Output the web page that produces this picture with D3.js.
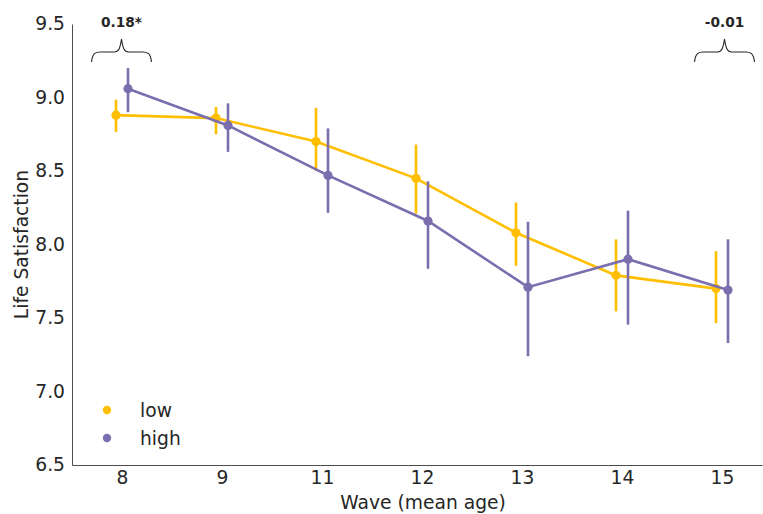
<!DOCTYPE html>
<html>
<head>
<meta charset="utf-8">
<script src="https://cdn.jsdelivr.net/npm/d3@7"></script>
<style>
body{margin:0;background:#fff;}
text{font-family:"DejaVu Sans",sans-serif;fill:#262626;}
</style>
</head>
<body>
<svg id="chart" width="763" height="514"></svg>
<script>
const waves = ["8","9","11","12","13","14","15"];
const lowMean = [8.88, 8.86, 8.70, 8.45, 8.08, 7.79, 7.70];
const lowLo   = [8.765, 8.75, 8.50, 8.21, 7.855, 7.545, 7.465];
const lowHi   = [8.985, 8.935, 8.93, 8.68, 8.285, 8.035, 7.955];
const highMean = [9.06, 8.81, 8.47, 8.16, 7.71, 7.90, 7.69];
const highLo   = [8.90, 8.63, 8.215, 7.835, 7.24, 7.455, 7.33];
const highHi   = [9.20, 8.96, 8.79, 8.43, 8.155, 8.23, 8.035];
const yTicks = [6.5, 7.0, 7.5, 8.0, 8.5, 9.0, 9.5];
const groupLabels = ["low", "high"];
const diffLabels = [{idx:0, text:"0.18*"}, {idx:6, text:"-0.01"}];

const colors = {low:"#ffbf00", high:"#7a6eae"};
const svg = d3.select("#chart");
const mLeft = 72, mRight = 762, mTop = 24, mBottom = 465;
const fs = "18.7px";

const x = d3.scaleLinear().domain([-0.5, 6.4]).range([mLeft, mRight]);
const y = d3.scaleLinear().domain([6.5, 9.5]).range([mBottom, mTop]);

// axes
const yAxis = d3.axisLeft(y).tickValues(yTicks).tickFormat(d3.format(".1f")).tickSize(0).tickPadding(7);
const gy = svg.append("g").attr("transform",`translate(${mLeft},0)`).call(yAxis);
gy.select(".domain").attr("stroke","#4d4d4d").attr("stroke-width",1);
gy.selectAll("text").style("font-size",fs).attr("fill","#262626");

const xAxis = d3.axisBottom(x).tickValues(d3.range(waves.length)).tickFormat(i=>waves[i]).tickSize(0).tickPadding(6);
const gx = svg.append("g").attr("transform",`translate(0,${mBottom})`).call(xAxis);
gx.select(".domain").attr("stroke","#4d4d4d").attr("stroke-width",1);
gx.selectAll("text").style("font-size",fs).attr("fill","#262626");

svg.append("text").attr("x",(mLeft+mRight)/2 + 6).attr("y",509).attr("text-anchor","middle")
  .style("font-size",fs).text("Wave (mean age)");
svg.append("text").attr("transform",`translate(28,${(mTop+mBottom)/2}) rotate(-90)`).attr("text-anchor","middle")
  .style("font-size",fs).text("Life Satisfaction");

const series = [
  {name:"low", mean:lowMean, lo:lowLo, hi:lowHi, off:-6},
  {name:"high", mean:highMean, lo:highLo, hi:highHi, off:6}
];

series.forEach(s=>{
  const c = colors[s.name];
  const g = svg.append("g");
  const line = d3.line().x((d,i)=>x(i)+s.off).y(d=>y(d));
  g.append("path").datum(s.mean).attr("d",line).attr("fill","none").attr("stroke",c).attr("stroke-width",2.6);
  g.selectAll("line.err").data(s.mean).enter().append("line")
    .attr("x1",(d,i)=>x(i)+s.off).attr("x2",(d,i)=>x(i)+s.off)
    .attr("y1",(d,i)=>y(s.lo[i])).attr("y2",(d,i)=>y(s.hi[i]))
    .attr("stroke",c).attr("stroke-width",2.6);
  g.selectAll("circle").data(s.mean).enter().append("circle")
    .attr("cx",(d,i)=>x(i)+s.off).attr("cy",d=>y(d)).attr("r",4.6).attr("fill",c);
});

// braces
diffLabels.forEach(dl=>{
  const cx = x(dl.idx) + (dl.idx === 0 ? -0.5 : 2.5);
  const w = 30, tipY = 39, midY = 52, endY = 62;
  const p = `M${cx-w},${endY} C${cx-w+1},${midY+1} ${cx-w+4},${midY} ${cx-w+9},${midY}`+
            ` L${cx-7},${midY} C${cx-3},${midY} ${cx-1.5},${midY-3} ${cx},${tipY}`+
            ` C${cx+1.5},${midY-3} ${cx+3},${midY} ${cx+7},${midY}`+
            ` L${cx+w-9},${midY} C${cx+w-4},${midY} ${cx+w-1},${midY+1} ${cx+w},${endY}`;
  svg.append("path").attr("d",p).attr("fill","none").attr("stroke","#262626").attr("stroke-width",1.1);
  svg.append("text").attr("x",cx).attr("y",27).attr("text-anchor","middle")
    .style("font-size","13.7px").style("font-weight","bold").text(dl.text);
});

// legend
groupLabels.forEach((gname,i)=>{
  const ly = 410 + i*28;
  svg.append("circle").attr("cx",107).attr("cy",ly).attr("r",4.2).attr("fill",colors[gname]);
  svg.append("text").attr("x",140).attr("y",ly+6.5).style("font-size",fs).text(gname);
});
</script>
</body>
</html>
